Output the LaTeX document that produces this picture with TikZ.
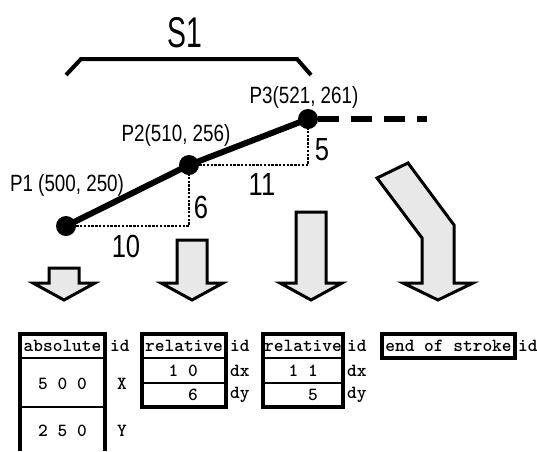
\documentclass[tikz,border=0pt]{standalone}
\usepackage{fontspec}
\usepackage{tikz}
\usetikzlibrary{positioning,calc}
\newfontfamily\pointfont[FakeStretch=0.8]{Liberation Sans}
\newfontfamily\titlefont[FakeStretch=0.66]{Liberation Sans}

\begin{document}
\begin{tikzpicture}[
    x=1pt, y=-1pt,
    dot/.style={circle, fill, inner sep=0pt, minimum size=20pt},
    ptlabel/.style={font=\pointfont\fontsize{23.5}{26}\selectfont, inner sep=0pt},
    steplabel/.style={font=\pointfont\fontsize{32}{34}\selectfont, inner sep=0pt},
    celltext/.style={font=\ttfamily\bfseries\fontsize{18.5}{20}\selectfont, inner sep=0pt},
    blockarrow/.style={draw, line width=3pt, fill=black!9, line join=miter},
    frame/.style={line width=3.8pt, line join=miter},
    rowline/.style={line width=1.2pt},
    offset/.style={line width=2.6pt, dash pattern=on 2.4pt off 1.4pt}
]
\useasboundingbox (0,0) rectangle (537,451);

% stroke S1 and its bracket
\node[font=\titlefont\fontsize{43}{45}\selectfont, inner sep=0pt] (stitle) at (185,33) {S1};
\draw[line width=4pt, line join=miter] (66,75) -- (81,59) -- (297,59) -- (311,75);

% sampled points
\node[dot] (p1) at (66,226) {};
\node[dot] (p2) at (189,165) {};
\node[dot] (p3) at (308,119) {};
\draw[line width=6pt] (p1.center) -- (p2.center) -- (p3.center);
\coordinate (c1) at (p2 |- p1);
\coordinate (c2) at (p3 |- p2);
\coordinate (strokeend) at (427,119);
\draw[offset] (p1) -- (c1) -- (p2);
\draw[offset] (p2) -- (c2) -- (p3);
\draw[line width=6pt, dash pattern=on 21pt off 12pt] (p3.east) -- (strokeend);

\node[ptlabel] (p1lab) at (67,185) {P1 (500, 250)};
\node[ptlabel] (p2lab) at (176,135) {P2(510, 256)};
\node[ptlabel] (p3lab) at (304,97) {P3(521, 261)};
\node[steplabel] (dx1) at (126,246) {10};
\node[steplabel] (dy1) at (201,207) {6};
\node[steplabel] (dx2) at (262,184) {11};
\node[steplabel] (dy2) at (322,150) {5};

% block arrows down to the records
\foreach \cx/\ty in {64/268, 192/240, 311/212}
    \draw[blockarrow] (\cx-15,\ty) -- (\cx+15,\ty) -- (\cx+15,283) -- (\cx+31,283)
        -- (\cx,300) -- (\cx-31,283) -- (\cx-15,283) -- cycle;
\draw[blockarrow] (377,178) -- (408,163) -- (454,225) -- (454,283) -- (473,283)
    -- (438,300) -- (403,283) -- (422,283) -- (422,238) -- cycle;

% absolute record
\draw[frame] (20,451) -- (20,334) -- (105,334) -- (105,451);
\draw[rowline] (20,358) -- (105,358);
\draw[rowline] (20,407) -- (105,407);
\node[celltext] (abshead) at (62.5,346) {absolute};
\node[celltext] (absx) at (62.5,384) {5 0 0};
\node[celltext] (absy) at (62.5,431) {2 5 0};
\node[celltext, anchor=west] (absid) at (110,346) {id};
\node[celltext] (absxlab) at (122,384) {X};
\node[celltext] (absylab) at (122,431) {Y};

% first relative record
\draw[frame] (142,334) rectangle (226,407);
\draw[rowline] (142,358) -- (226,358);
\draw[rowline] (142,383) -- (226,383);
\node[celltext] (rel1head) at (184,346) {relative};
\node[celltext, anchor=east] (rel1dx) at (198,371) {1 0};
\node[celltext, anchor=east] (rel1dy) at (198,395) {6};
\node[celltext, anchor=west] (rel1id) at (230,346) {id};
\node[celltext, anchor=west] (rel1dxlab) at (230,371) {dx};
\node[celltext, anchor=west] (rel1dylab) at (230,395) {dy};

% second relative record
\draw[frame] (263,334) rectangle (343,407);
\draw[rowline] (263,358) -- (343,358);
\draw[rowline] (263,383) -- (343,383);
\node[celltext] (rel2head) at (303,346) {relative};
\node[celltext, anchor=east] (rel2dx) at (318,371) {1 1};
\node[celltext, anchor=east] (rel2dy) at (318,395) {5};
\node[celltext, anchor=west] (rel2id) at (347,346) {id};
\node[celltext, anchor=west] (rel2dxlab) at (347,371) {dx};
\node[celltext, anchor=west] (rel2dylab) at (347,395) {dy};

% end of stroke record
\draw[frame] (382,334) rectangle (515,358);
\node[celltext] (eoshead) at (448.5,346) {end of stroke};
\node[celltext, anchor=west] (eosid) at (518,346) {id};
\end{tikzpicture}
\end{document}
